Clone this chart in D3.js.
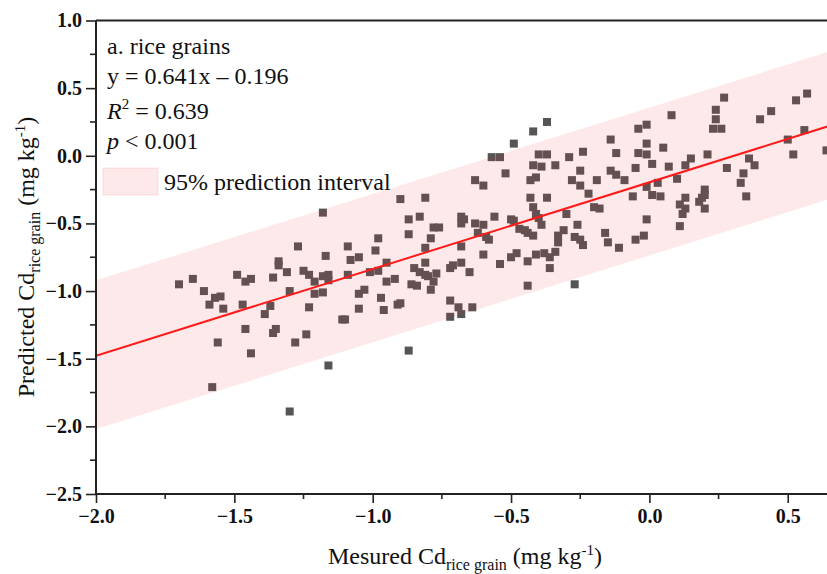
<!DOCTYPE html>
<html>
<head>
<meta charset="utf-8">
<script src="https://cdn.jsdelivr.net/npm/d3@7"></script>
<style>
  html, body { margin: 0; padding: 0; background: #fff; }
  svg { display: block; }
</style>
</head>
<body>
<div id="chart"></div>
<script>
const measured = [
  -1.70, -1.65, -1.61, -1.59, -1.57, -1.55, -1.54, -1.56, -1.58, -1.49,
  -1.46, -1.44, -1.47, -1.46, -1.44, -1.39, -1.37, -1.36, -1.34, -1.34,
  -1.31, -1.30, -1.36, -1.35, -1.28, -1.30, -1.27, -1.25, -1.24, -1.23,
  -1.23, -1.21, -1.21, -1.18, -1.18, -1.16, -1.16, -1.17, -1.16, -1.11,
  -1.10, -1.09, -1.09, -1.08, -1.05, -1.05, -1.03, -1.05, -1.01, -0.98,
  -0.99, -0.97, -0.96, -0.95, -0.95, -1.18, -0.37, -0.42, -0.49, -0.57,
  -0.54, -0.52, -0.63, -0.60, -0.90, -0.81, -0.87, -0.83, -0.87, -0.98,
  -0.78, -0.76, -0.79, -0.81, -0.68, -0.67, -0.68, -0.63, -0.60, -0.62,
  -0.59, -0.58, -0.68, -0.60, -0.56, -0.50, -0.49, -0.47, -0.45, -0.44,
  -0.42, -0.54, -0.50, -0.48, -0.44, -0.41, -0.38, -0.36, -0.34, -0.33,
  -0.33, -0.36, -0.44, -0.27, -0.43, -0.37, -0.42, -0.41, -0.40, -0.39,
  -0.43, -0.41, -0.42, -0.39, -0.40, -0.37, -0.34, -0.29, -0.28, -0.25,
  -0.24, -0.25, -0.22, -0.30, -0.31, -0.26, -0.27, -0.25, -0.24, -0.19,
  -0.20, -0.18, -0.16, -0.15, -0.11, -0.14, -0.12, -0.14, -0.12, -0.09,
  -0.06, -0.05, -0.04, -0.01, -0.04, -0.01, -0.01, -0.01, -0.01, -0.02,
  -0.05, -0.92, -0.86, -0.84, -0.85, -0.83, -0.81, -0.80, -0.77, -0.81,
  -0.78, -0.79, -0.72, -0.71, -0.68, -0.65, -0.72, -0.69, -0.68, -0.72,
  -0.64, -0.87, -0.91, -0.90, 0.27, 0.24, 0.24, 0.23, 0.26, 0.08,
  0.40, 0.44, 0.53, 0.57, 0.50, 0.56, 0.52, 0.64, 0.21, 0.15,
  0.13, 0.07, 0.10, 0.03, 0.04, 0.28, 0.36, 0.38, 0.34, 0.33,
  0.35, 0.20, 0.20, 0.19, 0.18, 0.20, 0.13, 0.11, 0.13, 0.12,
  0.11, 0.05, 0.01, 0.01
];
const predicted = [
  -0.95, -0.91, -1.00, -1.10, -1.05, -1.04, -1.13, -1.38, -1.71, -0.88,
  -0.93, -0.91, -1.10, -1.28, -1.46, -1.17, -1.11, -0.90, -0.78, -0.81,
  -0.86, -1.00, -1.31, -1.28, -1.38, -1.89, -0.67, -0.85, -1.32, -1.12,
  -0.88, -0.93, -1.02, -1.01, -0.89, -0.88, -0.92, -0.74, -1.55, -1.21,
  -1.21, -0.88, -0.67, -0.77, -0.75, -1.02, -0.99, -1.13, -0.86, -0.85,
  -0.70, -1.05, -1.14, -0.93, -0.79, -0.42, 0.25, 0.18, 0.09, -0.01,
  -0.01, -0.13, -0.18, -0.22, -0.32, -0.31, -0.47, -0.45, -0.58, -0.61,
  -0.53, -0.53, -0.61, -0.68, -0.45, -0.47, -0.50, -0.50, -0.51, -0.57,
  -0.60, -0.62, -0.67, -0.73, -0.45, -0.47, -0.48, -0.54, -0.55, -0.57,
  -0.59, -0.80, -0.75, -0.72, -0.78, -0.73, -0.72, -0.75, -0.71, -0.64,
  -0.59, -0.83, -0.96, -0.95, -0.31, -0.31, -0.38, -0.43, -0.46, -0.51,
  -0.18, -0.16, -0.07, -0.08, 0.01, 0.01, -0.07, -0.01, -0.18, -0.11,
  0.03, -0.22, -0.28, -0.43, -0.55, -0.51, -0.60, -0.62, -0.66, -0.18,
  -0.38, -0.39, -0.57, -0.64, -0.68, 0.12, 0.02, -0.11, -0.14, -0.18,
  -0.30, -0.09, 0.20, 0.23, 0.02, 0.01, 0.09, -0.23, -0.47, -0.59,
  -0.62, -0.91, -0.95, -0.96, -0.83, -0.86, -0.88, -0.89, -0.87, -0.79,
  -0.93, -0.99, -0.83, -0.81, -0.79, -0.86, -1.07, -1.12, -1.17, -1.19,
  -1.12, -1.44, -1.10, -1.09, 0.43, 0.34, 0.27, 0.20, 0.20, 0.30,
  0.27, 0.33, 0.41, 0.46, 0.12, 0.19, 0.01, 0.04, 0.01, -0.02,
  -0.07, -0.08, -0.17, -0.20, -0.30, -0.09, -0.02, -0.07, -0.13, -0.20,
  -0.30, -0.25, -0.29, -0.31, -0.34, -0.39, -0.31, -0.36, -0.39, -0.43,
  -0.52, 0.06, -0.06, -0.29
];

// fitted line y = 0.641x - 0.196
const fitSlope = 0.641;
const fitIntercept = -0.196;

// 95% prediction band, edges read at the two ends of the plot
const bandX = [-2.0, 0.65];
const bandUpper = [-0.92, 0.77];
const bandLower = [-2.02, -0.32];

const xTicks = [-2.0, -1.5, -1.0, -0.5, 0.0, 0.5];
const xMinor = [-1.75, -1.25, -0.75, -0.25, 0.25];
const yTicks = [-2.5, -2.0, -1.5, -1.0, -0.5, 0.0, 0.5, 1.0];
const yMinor = [-2.25, -1.75, -1.25, -0.75, -0.25, 0.25, 0.75];

const width = 827, height = 574;
const serif = '"Liberation Serif", "Times New Roman", serif';

const svg = d3.select('#chart')
    .append('svg')
    .attr('width', width)
    .attr('height', height)
    .style('font-family', serif);

const x = d3.scaleLinear().domain([-2.0, 0.65]).range([96, 96 + 2.65 * 276.7]);
const y = d3.scaleLinear().domain([-2.5, 1.0]).range([494, 20.5]);

svg.append('clipPath').attr('id', 'plot-clip')
    .append('rect')
    .attr('x', x(-2.0)).attr('y', y(1.0))
    .attr('width', width - x(-2.0)).attr('height', y(-2.5) - y(1.0));

const plot = svg.append('g').attr('clip-path', 'url(#plot-clip)');

// points first, the band is laid over them with transparency
const pts = measured.map((m, i) => ({ m: m, p: predicted[i] }));
const size = 8;
plot.append('g')
    .selectAll('rect')
    .data(pts)
    .enter()
    .append('rect')
    .attr('x', d => x(d.m) - size / 2)
    .attr('y', d => y(d.p) - size / 2)
    .attr('width', size)
    .attr('height', size)
    .attr('fill', '#555555');

const band = d3.area()
    .x((d, i) => x(bandX[i]))
    .y0((d, i) => y(bandLower[i]))
    .y1((d, i) => y(bandUpper[i]));
plot.append('path')
    .datum(bandX)
    .attr('d', band)
    .attr('fill', 'rgb(240,40,40)')
    .attr('fill-opacity', 0.1);

// regression line
plot.append('line')
    .attr('x1', x(bandX[0]))
    .attr('y1', y(fitSlope * bandX[0] + fitIntercept))
    .attr('x2', x(bandX[1]))
    .attr('y2', y(fitSlope * bandX[1] + fitIntercept))
    .attr('stroke', '#ff1a1a')
    .attr('stroke-width', 2);

// axes
const fmt = d => (d < 0 ? '\u2212' : '') + Math.abs(d).toFixed(1);

const xAxis = svg.append('g')
    .attr('transform', `translate(0,${y(-2.5)})`)
    .call(d3.axisBottom(x).tickValues(xTicks).tickFormat(fmt).tickSize(9).tickPadding(6));
xAxis.append('g')
    .selectAll('line')
    .data(xMinor)
    .enter()
    .append('line')
    .attr('x1', d => x(d)).attr('x2', d => x(d))
    .attr('y1', 0).attr('y2', 5)
    .attr('stroke', '#222').attr('stroke-width', 1.6);

const yAxis = svg.append('g')
    .attr('transform', `translate(${x(-2.0)},0)`)
    .call(d3.axisLeft(y).tickValues(yTicks).tickFormat(fmt).tickSize(10).tickPadding(4));
yAxis.append('g')
    .selectAll('line')
    .data(yMinor)
    .enter()
    .append('line')
    .attr('y1', d => y(d)).attr('y2', d => y(d))
    .attr('x1', 0).attr('x2', -6)
    .attr('stroke', '#222').attr('stroke-width', 1.6);

[xAxis, yAxis].forEach(g => {
    g.select('.domain').attr('stroke', '#222').attr('stroke-width', 2);
    g.selectAll('.tick line').attr('stroke', '#222').attr('stroke-width', 1.6);
    g.selectAll('.tick text')
        .attr('fill', '#111')
        .style('font-family', serif)
        .style('font-size', '20px')
        .style('font-weight', 'bold');
});
xAxis.selectAll('.domain').attr('d', `M${x(-2.0)},0H${width}`);
yAxis.selectAll('.domain').attr('d', `M0,${y(-2.5)}V${y(1.0)}`);

// top frame line
svg.append('line')
    .attr('x1', x(-2.0)).attr('x2', width)
    .attr('y1', y(1.0)).attr('y2', y(1.0))
    .attr('stroke', '#222').attr('stroke-width', 2);

// annotation block
const note = svg.append('g').attr('fill', '#111').style('font-size', '24px');
note.append('text').attr('x', 107).attr('y', 54).text('a. rice grains');
note.append('text').attr('x', 107).attr('y', 84).text('y = 0.641x \u2013 0.196');
const r2 = note.append('text').attr('x', 107).attr('y', 119);
r2.append('tspan').style('font-style', 'italic').text('R');
r2.append('tspan').attr('dy', -10).style('font-size', '15px').text('2');
r2.append('tspan').attr('dy', 10).text(' = 0.639');
const pv = note.append('text').attr('x', 107).attr('y', 149);
pv.append('tspan').style('font-style', 'italic').text('p');
pv.append('tspan').text(' < 0.001');

// legend
svg.append('rect')
    .attr('x', 103).attr('y', 168)
    .attr('width', 55).attr('height', 27)
    .attr('fill', 'rgb(240,40,40)').attr('fill-opacity', 0.1)
    .attr('stroke', 'rgb(240,40,40)').attr('stroke-opacity', 0.12);
note.append('text').attr('x', 164).attr('y', 190).text('95% prediction interval');

// axis titles
const xt = svg.append('text')
    .attr('x', 465).attr('y', 564)
    .attr('text-anchor', 'middle')
    .attr('fill', '#111')
    .style('font-size', '24px');
xt.append('tspan').text('Mesured Cd');
xt.append('tspan').attr('dy', 6).style('font-size', '16px').text('rice grain');
xt.append('tspan').attr('dy', -6).text(' (mg kg');
xt.append('tspan').attr('dy', -9).style('font-size', '15px').text('-1');
xt.append('tspan').attr('dy', 9).text(')');

const yt = svg.append('text')
    .attr('transform', 'translate(34,257) rotate(-90)')
    .attr('text-anchor', 'middle')
    .attr('fill', '#111')
    .style('font-size', '24px');
yt.append('tspan').text('Predicted Cd');
yt.append('tspan').attr('dy', 6).style('font-size', '16px').text('rice grain');
yt.append('tspan').attr('dy', -6).text(' (mg kg');
yt.append('tspan').attr('dy', -9).style('font-size', '15px').text('-1');
yt.append('tspan').attr('dy', 9).text(')');
</script>
</body>
</html>
